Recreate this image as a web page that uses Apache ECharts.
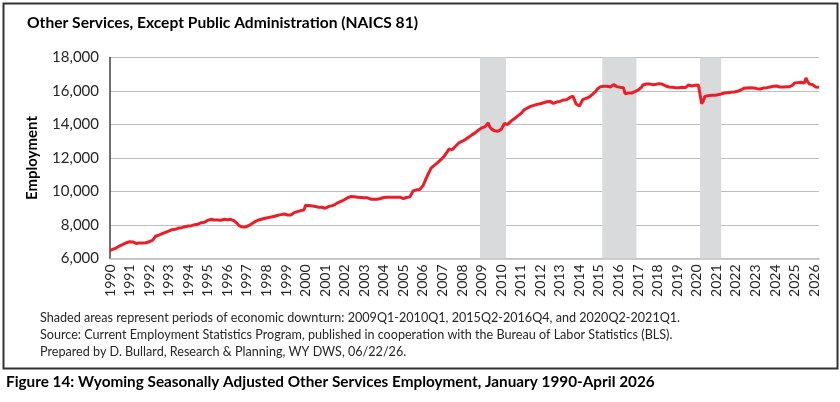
<!DOCTYPE html>
<html>
<head>
<meta charset="utf-8">
<script src="https://cdn.jsdelivr.net/npm/echarts@6/dist/echarts.min.js"></script>
<style>
  html, body { margin: 0; padding: 0; background: #fff; }
  #chart { width: 840px; height: 402px; }
</style>
</head>
<body>
<div id="chart"></div>
<script>
// monthly employment, Jan 1990 - Apr 2026
var emp1990s = [
    6480, 6520, 6560, 6600, 6640, 6700, 6760, 6800, 6840, 6900, 6940, 6960,
    7000, 7020, 6990, 6920, 6900, 6910, 6930, 6900, 6920, 6950, 6940, 6960,
    7000, 7040, 7080, 7200, 7330, 7360, 7400, 7450, 7480, 7520, 7560, 7580,
    7640, 7680, 7720, 7760, 7740, 7800, 7820, 7860, 7840, 7880, 7900, 7920,
    7940, 7980, 7960, 7990, 8020, 8060, 8050, 8100, 8140, 8120, 8160, 8200,
    8280, 8360, 8340, 8320, 8300, 8340, 8300, 8320, 8280, 8300, 8340, 8320,
    8320, 8300, 8340, 8300, 8260, 8200, 8100, 7980, 7900, 7880, 7940, 7880,
    7900, 7960, 8020, 8080, 8160, 8200, 8240, 8300, 8320, 8340, 8360, 8400,
    8420, 8440, 8460, 8480, 8500, 8520, 8560, 8580, 8600, 8620, 8640, 8660,
    8640, 8600, 8520, 8600, 8700, 8740, 8760, 8800, 8840, 8860, 8880, 8900
];
var emp2000s = [
    9180, 9200, 9160, 9180, 9140, 9120, 9100, 9080, 9060, 9080, 9060, 9000,
    9000, 9060, 9100, 9120, 9140, 9180, 9220, 9300, 9340, 9380, 9420, 9460,
    9520, 9580, 9640, 9680, 9700, 9720, 9680, 9700, 9660, 9680, 9640, 9660,
    9620, 9600, 9620, 9560, 9540, 9580, 9540, 9520, 9540, 9560, 9580, 9600,
    9640, 9660, 9660, 9650, 9660, 9670, 9660, 9680, 9660, 9670, 9660, 9680,
    9580, 9660, 9640, 9660, 9680, 9720, 10040, 10080, 10100, 10080, 10120, 10200,
    10340, 10560, 10800, 11000, 11200, 11400, 11480, 11560, 11640, 11720, 11800, 11900,
    12000, 12100, 12240, 12380, 12540, 12520, 12500, 12560, 12700, 12800, 12900, 12960,
    13000, 13040, 13100, 13160, 13240, 13300, 13380, 13440, 13500, 13600, 13660, 13720,
    13800, 13840, 13860, 13900, 14100, 13860, 13740, 13680, 13620, 13640, 13600, 13660
];
var emp2010s = [
    13700, 13800, 14060, 13960, 14000, 14100, 14200, 14260, 14340, 14420, 14500, 14560,
    14640, 14720, 14860, 14900, 14980, 15060, 15080, 15100, 15140, 15160, 15200, 15220,
    15240, 15260, 15300, 15320, 15360, 15400, 15380, 15340, 15260, 15300, 15340, 15360,
    15380, 15420, 15460, 15500, 15480, 15540, 15600, 15640, 15700, 15760, 15220, 15160,
    15100, 15140, 15480, 15520, 15560, 15620, 15640, 15700, 15800, 15880, 15980, 16120,
    16200, 16260, 16300, 16280, 16260, 16280, 16260, 16240, 16300, 16380, 16320, 16260,
    16180, 16220, 16280, 16200, 15840, 15820, 15880, 15900, 15880, 15920, 15960, 15980,
    16060, 16160, 16220, 16360, 16400, 16420, 16440, 16420, 16400, 16380, 16360, 16400,
    16420, 16440, 16460, 16400, 16360, 16300, 16260, 16240, 16200, 16220, 16180, 16200,
    16180, 16200, 16160, 16220, 16240, 16200, 16300, 16360, 16340, 16300, 16360, 16340
];
var emp2020s = [
    16360, 16360, 16340, 15240, 15400, 15680, 15700, 15720, 15700, 15740, 15760, 15740,
    15760, 15780, 15800, 15820, 15860, 15880, 15860, 15900, 15880, 15920, 15900, 15940,
    15960, 15980, 16000, 16060, 16100, 16160, 16120, 16180, 16160, 16200, 16220, 16180,
    16200, 16140, 16160, 16120, 16200, 16180, 16220, 16200, 16260, 16240, 16300, 16280,
    16260, 16300, 16220, 16240, 16260, 16240, 16280, 16260, 16240, 16260, 16300, 16360,
    16480, 16520, 16500, 16580, 16520, 16460, 16480, 16780, 16560, 16420, 16460, 16380,
    16280, 16240, 16200, 16220
];

// shaded downturns, drawn where the picture puts them
var downturns = [
    ['2008-12', '2010-04'],
    ['2015-03', '2016-12'],
    ['2020-03', '2021-04']
];

var yTicks = { min: 6000, max: 18000, step: 2000 };

var notes = [
    'Shaded areas represent periods of economic downturn: 2009Q1-2010Q1, 2015Q2-2016Q4, and 2020Q2-2021Q1.',
    'Source: Current Employment Statistics Program, published in cooperation with the Bureau of Labor Statistics (BLS).',
    'Prepared by D. Bullard, Research & Planning, WY DWS, 06/22/26.'
];

var values = emp1990s.concat(emp2000s, emp2010s, emp2020s);
var months = [];
for (var i = 0; i < values.length; i++) {
    var y = 1990 + Math.floor(i / 12);
    var m = i % 12 + 1;
    months.push(y + '-' + (m < 10 ? '0' + m : m));
}

var font = 'Lato, "Open Sans", sans-serif';
var myChart = echarts.init(document.getElementById('chart'), null, { renderer: 'canvas' });

var noteTexts = notes.map(function (t, k) {
    return {
        type: 'text', left: 40, top: 311 + k * 17,
        style: { text: t, font: '12.6px ' + font, fill: '#262626' }
    };
});

var option = {
    animation: false,
    backgroundColor: '#fff',
    grid: { left: 110, right: 21, top: 57.5, bottom: 143.5 },
    xAxis: {
        type: 'category',
        data: months,
        boundaryGap: false,
        axisLine: { lineStyle: { color: '#bfbfbf', width: 1.5 } },
        axisTick: { show: false },
        axisLabel: {
            interval: function (idx) { return idx % 12 === 0; },
            rotate: 90,
            margin: 6,
            color: '#262626',
            fontFamily: font,
            fontSize: 14,
            formatter: function (v) { return v.slice(0, 4); }
        },
        splitLine: { show: false }
    },
    yAxis: {
        type: 'value',
        min: yTicks.min,
        max: yTicks.max,
        interval: yTicks.step,
        name: 'Employment',
        nameLocation: 'middle',
        nameGap: 70,
        nameTextStyle: { fontFamily: font, fontSize: 15, fontWeight: 'bold', color: '#000' },
        axisLine: { show: true, lineStyle: { color: '#404040', width: 1.5 } },
        axisTick: { show: false },
        axisLabel: {
            margin: 11,
            color: '#262626',
            fontFamily: font,
            fontSize: 15,
            formatter: function (v) { return v.toLocaleString('en-US'); }
        },
        splitLine: { lineStyle: { color: '#bfbfbf', width: 1.2 } }
    },
    series: [{
        name: 'Employment',
        type: 'line',
        data: values,
        showSymbol: false,
        lineStyle: { color: '#ee1c25', width: 3 },
        markArea: {
            silent: true,
            itemStyle: { color: '#d9dadc' },
            data: downturns.map(function (d) { return [{ xAxis: d[0] }, { xAxis: d[1] }]; })
        },
        z: 3
    }],
    graphic: [
        {
            type: 'rect', left: 1, top: 1, z: -1,
            shape: { width: 834, height: 365 },
            style: { fill: 'none', stroke: '#333', lineWidth: 2 }
        },
        {
            type: 'text', left: 27, top: 15,
            style: { text: 'Other Services, Except Public Administration (NAICS 81)', font: 'bold 15.6px ' + font, fill: '#000' }
        },
        {
            type: 'text', left: 6, top: 375,
            style: { text: 'Figure 14: Wyoming Seasonally Adjusted Other Services Employment, January 1990-April 2026', font: 'bold 15.3px ' + font, fill: '#000' }
        }
    ].concat(noteTexts)
};

myChart.setOption(option);
</script>
</body>
</html>
